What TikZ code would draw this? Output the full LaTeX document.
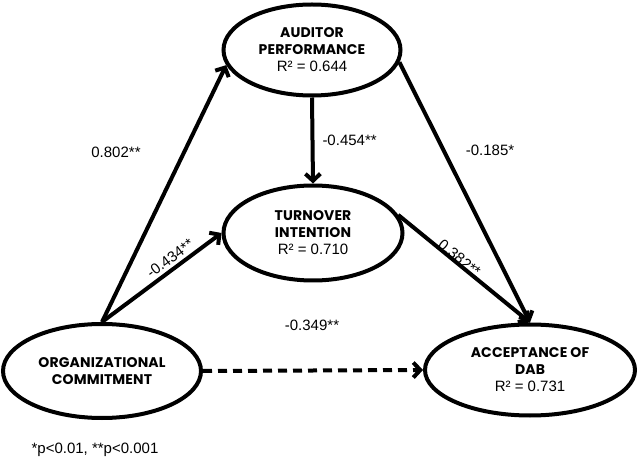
\documentclass[tikz,border=0pt]{standalone}
\usepackage{fontspec}
\setmainfont{Liberation Sans}
\newfontfamily\headfont{Poppins}[LetterSpace=1]
\usetikzlibrary{shapes.geometric, arrows.meta, positioning}

\newcommand{\hd}[1]{{\headfont\bfseries\fontsize{14}{17}\selectfont #1}}

\begin{document}
\begin{tikzpicture}[x=1pt, y=-1pt,
    latent/.style={ellipse, draw, line width=4pt, inner sep=0pt, align=center,
        font=\fontsize{15}{17}\selectfont},
    path/.style={line width=4pt, -{Straight Barb[length=7pt, width=15pt, line width=4pt]}},
    coef/.style={font=\fontsize{15}{17}\selectfont, inner sep=2pt}]
    \useasboundingbox (0,0) rectangle (640,470);

    % Constructs
    \node[latent, minimum width=177pt, minimum height=91pt] (ap) at (312,50)
        {\hd{AUDITOR}\\\hd{PERFORMANCE}\\R² = 0.644};
    \node[latent, minimum width=179pt, minimum height=95pt] (ti) at (313,233)
        {\hd{TURNOVER}\\\hd{INTENTION}\\R² = 0.710};
    \node[latent, minimum width=198pt, minimum height=94pt] (oc) at (102,371)
        {\hd{ORGANIZATIONAL}\\\hd{COMMITMENT}};
    \node[latent, minimum width=210pt, minimum height=91pt] (dab) at (530,370)
        {\hd{ACCEPTANCE OF}\\\hd{DAB}\\R² = 0.731};

    % Paths
    \draw[path] (oc.north) -- (ap.190);
    \draw[path] (oc.north) -- (ti.west)
        node[coef, pos=0.62, sloped, above=1pt] (c2) {-0.434**};
    \draw[path] (ap.south) -- (ti.north)
        node[coef, midway, right=6pt] (c3) {-0.454**};
    \draw[path] (ap.-8) -- (dab.north);
    \draw[path] (ti.12) -- (dab.north)
        node[coef, pos=0.44, sloped, above=-4pt] (c5) {0.382**};
    \draw[path, dash pattern=on 9pt off 6pt] (oc.east) -- (dab.west);

    % Coefficients
    \node[coef] (c1) at (116,152) {0.802**};
    \node[coef] (c4) at (490,150) {-0.185*};
    \node[coef] (c6) at (312,325) {-0.349**};

    % Note
    \node[coef] (note) at (95,450) {*p<0.01, **p<0.001};
\end{tikzpicture}
\end{document}
